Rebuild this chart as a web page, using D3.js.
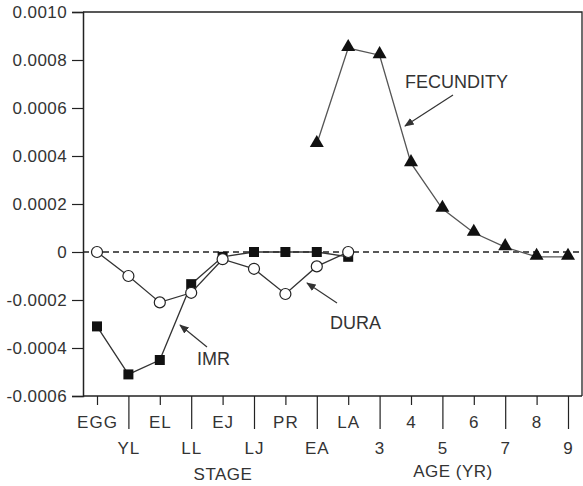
<!DOCTYPE html>
<html>
<head>
<meta charset="utf-8">
<script src="https://cdn.jsdelivr.net/npm/d3@7"></script>
<style>
  body { margin: 0; background: #fff; }
  svg text { font-family: "Liberation Sans", Arial, sans-serif; fill: #333; }
</style>
</head>
<body>
<script>
// x categories: life stages then age in years
var categories = ["EGG", "YL", "EL", "LL", "EJ", "LJ", "PR", "EA", "LA", "3", "4", "5", "6", "7", "8", "9"];

// sensitivities
var imr = [-0.00031, -0.00051, -0.00045, -0.000134, -0.00002, 0, 0, 0, -0.00002];
var dura = [0, -0.0001, -0.00021, -0.00017, -0.00003, -0.00007, -0.000175, -0.00006, 0];
var fecundity = [null, null, null, null, null, null, null, 0.00045, 0.00085, 0.00082, 0.00037, 0.00018, 0.00008, 0.00002, -0.00002, -0.00002];

var yTicks = [-0.0006, -0.0004, -0.0002, 0, 0.0002, 0.0004, 0.0006, 0.0008, 0.0010];

window.onload = draw();

function draw(){
	var width = 583,
		height = 486;

	var svg = d3.select("body")
		.append("svg")
		.attr("width", width)
		.attr("height", height);

	var left = 83, right = 582, top = 12, bottom = 396;

	var x = d3.scaleLinear()
		.domain([0, 15])
		.range([97, 568]);

	var y = d3.scaleLinear()
		.domain([-0.0006, 0.0010])
		.range([bottom, top]);

	//frame top and right
	svg.append("path")
		.attr("d", "M" + left + "," + top + "H" + right + "V" + bottom)
		.attr("fill", "none")
		.attr("stroke", "#222")
		.attr("stroke-width", 1.3);

	//y axis
	var yAxis = svg.append("g")
		.attr("transform", "translate(" + left + ",0)")
		.call(d3.axisLeft(y)
			.tickValues(yTicks)
			.tickSize(11)
			.tickPadding(5)
			.tickFormat(function(d){ return Math.abs(d) < 1e-12 ? "0" : d.toFixed(4); }));
	yAxis.select(".domain").attr("stroke", "#222").attr("stroke-width", 1.5);
	yAxis.selectAll(".tick line").attr("stroke", "#222").attr("stroke-width", 1.2);
	yAxis.selectAll("text")
		.attr("font-size", 17)
		.attr("letter-spacing", 0.4)
		.attr("fill", "#444");

	//x axis: two rows of labels
	var evens = d3.range(0, 16, 2), odds = d3.range(1, 16, 2);

	var xTop = svg.append("g")
		.attr("transform", "translate(0," + bottom + ")")
		.call(d3.axisBottom(x)
			.tickValues(evens)
			.tickSize(9)
			.tickFormat(function(i){ return categories[i]; }));
	xTop.select(".domain")
		.attr("d", "M" + left + ",0H" + right)
		.attr("stroke", "#222").attr("stroke-width", 1.5);
	xTop.selectAll("text").attr("y", 32).attr("dy", 0);

	var xBot = svg.append("g")
		.attr("transform", "translate(0," + bottom + ")")
		.call(d3.axisBottom(x)
			.tickValues(odds)
			.tickSize(33)
			.tickFormat(function(i){ return categories[i]; }));
	xBot.select(".domain").remove();
	xBot.selectAll("text").attr("y", 58).attr("dy", 0);

	svg.selectAll(".tick line").attr("stroke", "#222").attr("stroke-width", 1.2);
	[xTop, xBot].forEach(function(g){
		g.selectAll("text")
			.attr("font-size", 17)
			.attr("letter-spacing", 1)
			.attr("fill", "#333");
	});

	svg.append("text")
		.attr("x", 223).attr("y", 480)
		.attr("text-anchor", "middle")
		.attr("font-size", 17).attr("letter-spacing", 0.5)
		.text("STAGE");
	svg.append("text")
		.attr("x", 453).attr("y", 477)
		.attr("text-anchor", "middle")
		.attr("font-size", 17).attr("letter-spacing", 0.5)
		.text("AGE (YR)");

	//zero line
	svg.append("line")
		.attr("x1", left).attr("x2", right)
		.attr("y1", y(0)).attr("y2", y(0))
		.attr("stroke", "#222")
		.attr("stroke-width", 1.3)
		.attr("stroke-dasharray", "6,4");

	var line = d3.line()
		.defined(function(d){ return d != null; })
		.x(function(d, i){ return x(i); })
		.y(function(d){ return y(d); });

	//IMR
	svg.append("path")
		.datum(imr)
		.attr("d", line)
		.attr("fill", "none")
		.attr("stroke", "#333")
		.attr("stroke-width", 1.3);
	svg.selectAll(".imr")
		.data(imr)
		.enter()
		.append("rect")
		.attr("class", "imr")
		.attr("x", function(d, i){ return x(i) - 5; })
		.attr("y", function(d){ return y(d) - 5; })
		.attr("width", 10)
		.attr("height", 10)
		.attr("fill", "#111");

	//FECUNDITY
	svg.append("path")
		.datum(fecundity)
		.attr("d", line)
		.attr("fill", "none")
		.attr("stroke", "#555")
		.attr("stroke-width", 1.3);
	svg.selectAll(".fec")
		.data(fecundity.map(function(d, i){ return {i: i, v: d}; }).filter(function(d){ return d.v != null; }))
		.enter()
		.append("path")
		.attr("class", "fec")
		.attr("d", d3.symbol().type(d3.symbolTriangle).size(85))
		.attr("transform", function(d){ return "translate(" + x(d.i) + "," + (y(d.v) - 1) + ")"; })
		.attr("fill", "#111");

	//DURA
	svg.append("path")
		.datum(dura)
		.attr("d", line)
		.attr("fill", "none")
		.attr("stroke", "#333")
		.attr("stroke-width", 1.3);
	svg.selectAll(".dura")
		.data(dura)
		.enter()
		.append("circle")
		.attr("class", "dura")
		.attr("cx", function(d, i){ return x(i); })
		.attr("cy", function(d){ return y(d); })
		.attr("r", 5.5)
		.attr("fill", "#fff")
		.attr("stroke", "#222")
		.attr("stroke-width", 1.2);

	//annotations
	svg.append("defs").append("marker")
		.attr("id", "head")
		.attr("viewBox", "0 0 10 10")
		.attr("refX", 9).attr("refY", 5)
		.attr("markerWidth", 8).attr("markerHeight", 8)
		.attr("orient", "auto")
		.append("path")
		.attr("d", "M0,1L10,5L0,9Z")
		.attr("fill", "#333");

	var notes = [
		{text: "FECUNDITY", tx: 405, ty: 88, x1: 453, y1: 95, x2: 405, y2: 126},
		{text: "IMR", tx: 197, ty: 365, x1: 207, y1: 347, x2: 180, y2: 325},
		{text: "DURA", tx: 330, ty: 329, x1: 337, y1: 303, x2: 307, y2: 283}
	];
	notes.forEach(function(n){
		svg.append("line")
			.attr("x1", n.x1).attr("y1", n.y1)
			.attr("x2", n.x2).attr("y2", n.y2)
			.attr("stroke", "#333")
			.attr("stroke-width", 1.2)
			.attr("marker-end", "url(#head)");
		svg.append("text")
			.attr("x", n.tx).attr("y", n.ty)
			.attr("font-size", 18)
			.text(n.text);
	});
};
</script>
</body>
</html>
